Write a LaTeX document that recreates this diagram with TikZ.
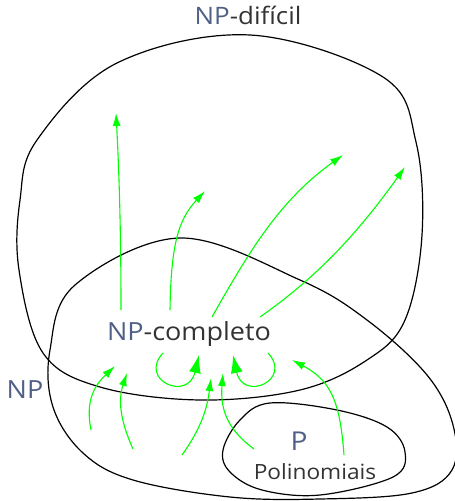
\documentclass[tikz,border=0pt]{standalone}
\usepackage{fontspec}
\setmainfont{Open Sans}[FakeStretch=1.08]
\usepackage{tikz}
\usetikzlibrary{arrows.meta}

\definecolor{npblue}{HTML}{4F5F85}
\definecolor{texto}{HTML}{333333}
\definecolor{verde}{HTML}{00FF00}

\tikzset{
  conjunto/.style={draw=black, line width=1.2pt},
  rotulo/.style={anchor=base, text=texto, inner sep=0pt},
  reduz/.style={draw=verde, line width=1.1pt, -{Latex[length=13pt,width=8pt]}},
  reduzlaco/.style={draw=verde, line width=1.1pt, -{Latex[length=18pt,width=12pt]}}
}
\newcommand{\NPtxt}{\textcolor{npblue}{NP}}

\begin{document}
\begin{tikzpicture}[x=1pt,y=-1pt]
    \useasboundingbox (0,0) rectangle (455,501);

    % NP-difícil
    \draw[conjunto] plot[smooth cycle, tension=0.6] coordinates {
      (250,35) (383,77) (416,142) (422,235) (405,320) (367,360) (300,390)
      (200,400) (100,387) (43,353) (19,270) (20,200) (37,140) (117,63)};
    % NP
    \draw[conjunto] plot[smooth cycle, tension=0.6] coordinates {
      (180,238) (300,280) (367,320) (427,375) (453,425) (452,470) (412,493)
      (320,499) (230,497) (133,480) (83,453) (53,407) (50,350) (75,285)};
    % P
    \draw[conjunto] plot[smooth cycle, tension=0.6] coordinates {
      (223,450) (240,420) (270,403) (337,410) (387,427) (405,452) (393,477)
      (320,495) (262,490) (230,472)};

    \node[rotulo, font=\fontsize{24}{24}\selectfont] (hard) at (248,24) {\NPtxt-difícil};
    \node[rotulo, font=\fontsize{25}{25}\selectfont] (npc) at (189,340) {\NPtxt-completo};
    \node[rotulo, font=\fontsize{25}{25}\selectfont] (np) at (25,398) {\NPtxt};
    \node[rotulo, text=npblue, font=\fontsize{26}{26}\selectfont] (p) at (299,450) {P};
    \node[rotulo, font=\fontsize{21}{21}\selectfont] (poli) at (315,479) {Polinomiais};

    % pontas das reducoes
    \coordinate (s1) at (121,310); \coordinate (t1) at (116,113);
    \coordinate (s2) at (170,310); \coordinate (t2) at (205,191);
    \coordinate (s3) at (212,317); \coordinate (t3) at (343,155);
    \coordinate (s4) at (260,317); \coordinate (t4) at (405,167);
    \coordinate (s5) at (91,430);  \coordinate (t5) at (115,366);
    \coordinate (s6) at (133,449); \coordinate (t6) at (127,373);
    \coordinate (s7) at (182,455); \coordinate (t7) at (211,378);
    \coordinate (s8) at (254,449); \coordinate (t8) at (223,373);
    \coordinate (s9) at (344,455); \coordinate (t9) at (292,360);
    \coordinate (l1) at (163,353); \coordinate (m1) at (199,355);
    \coordinate (l2) at (268,353); \coordinate (m2) at (233,355);

    \draw[reduz] (s1) .. controls (121,230) and (119,170) .. (t1);
    \draw[reduz] (s2) .. controls (171,245) and (178,220) .. (t2);
    \draw[reduz] (s3) .. controls (250,250) and (280,200) .. (t3);
    \draw[reduz] (s4) .. controls (320,275) and (360,230) .. (t4);
    \draw[reduz] (s5) .. controls (85,400) and (95,385) .. (t5);
    \draw[reduz] (s6) .. controls (120,420) and (118,400) .. (t6);
    \draw[reduz] (s7) .. controls (200,430) and (207,410) .. (t7);
    \draw[reduz] (s8) .. controls (228,430) and (220,410) .. (t8);
    \draw[reduz] (s9) .. controls (340,400) and (330,380) .. (t9);
    \draw[reduzlaco] (l1) .. controls (138,380) and (188,402) .. (m1);
    \draw[reduzlaco] (l2) .. controls (293,380) and (243,402) .. (m2);
\end{tikzpicture}
\end{document}
